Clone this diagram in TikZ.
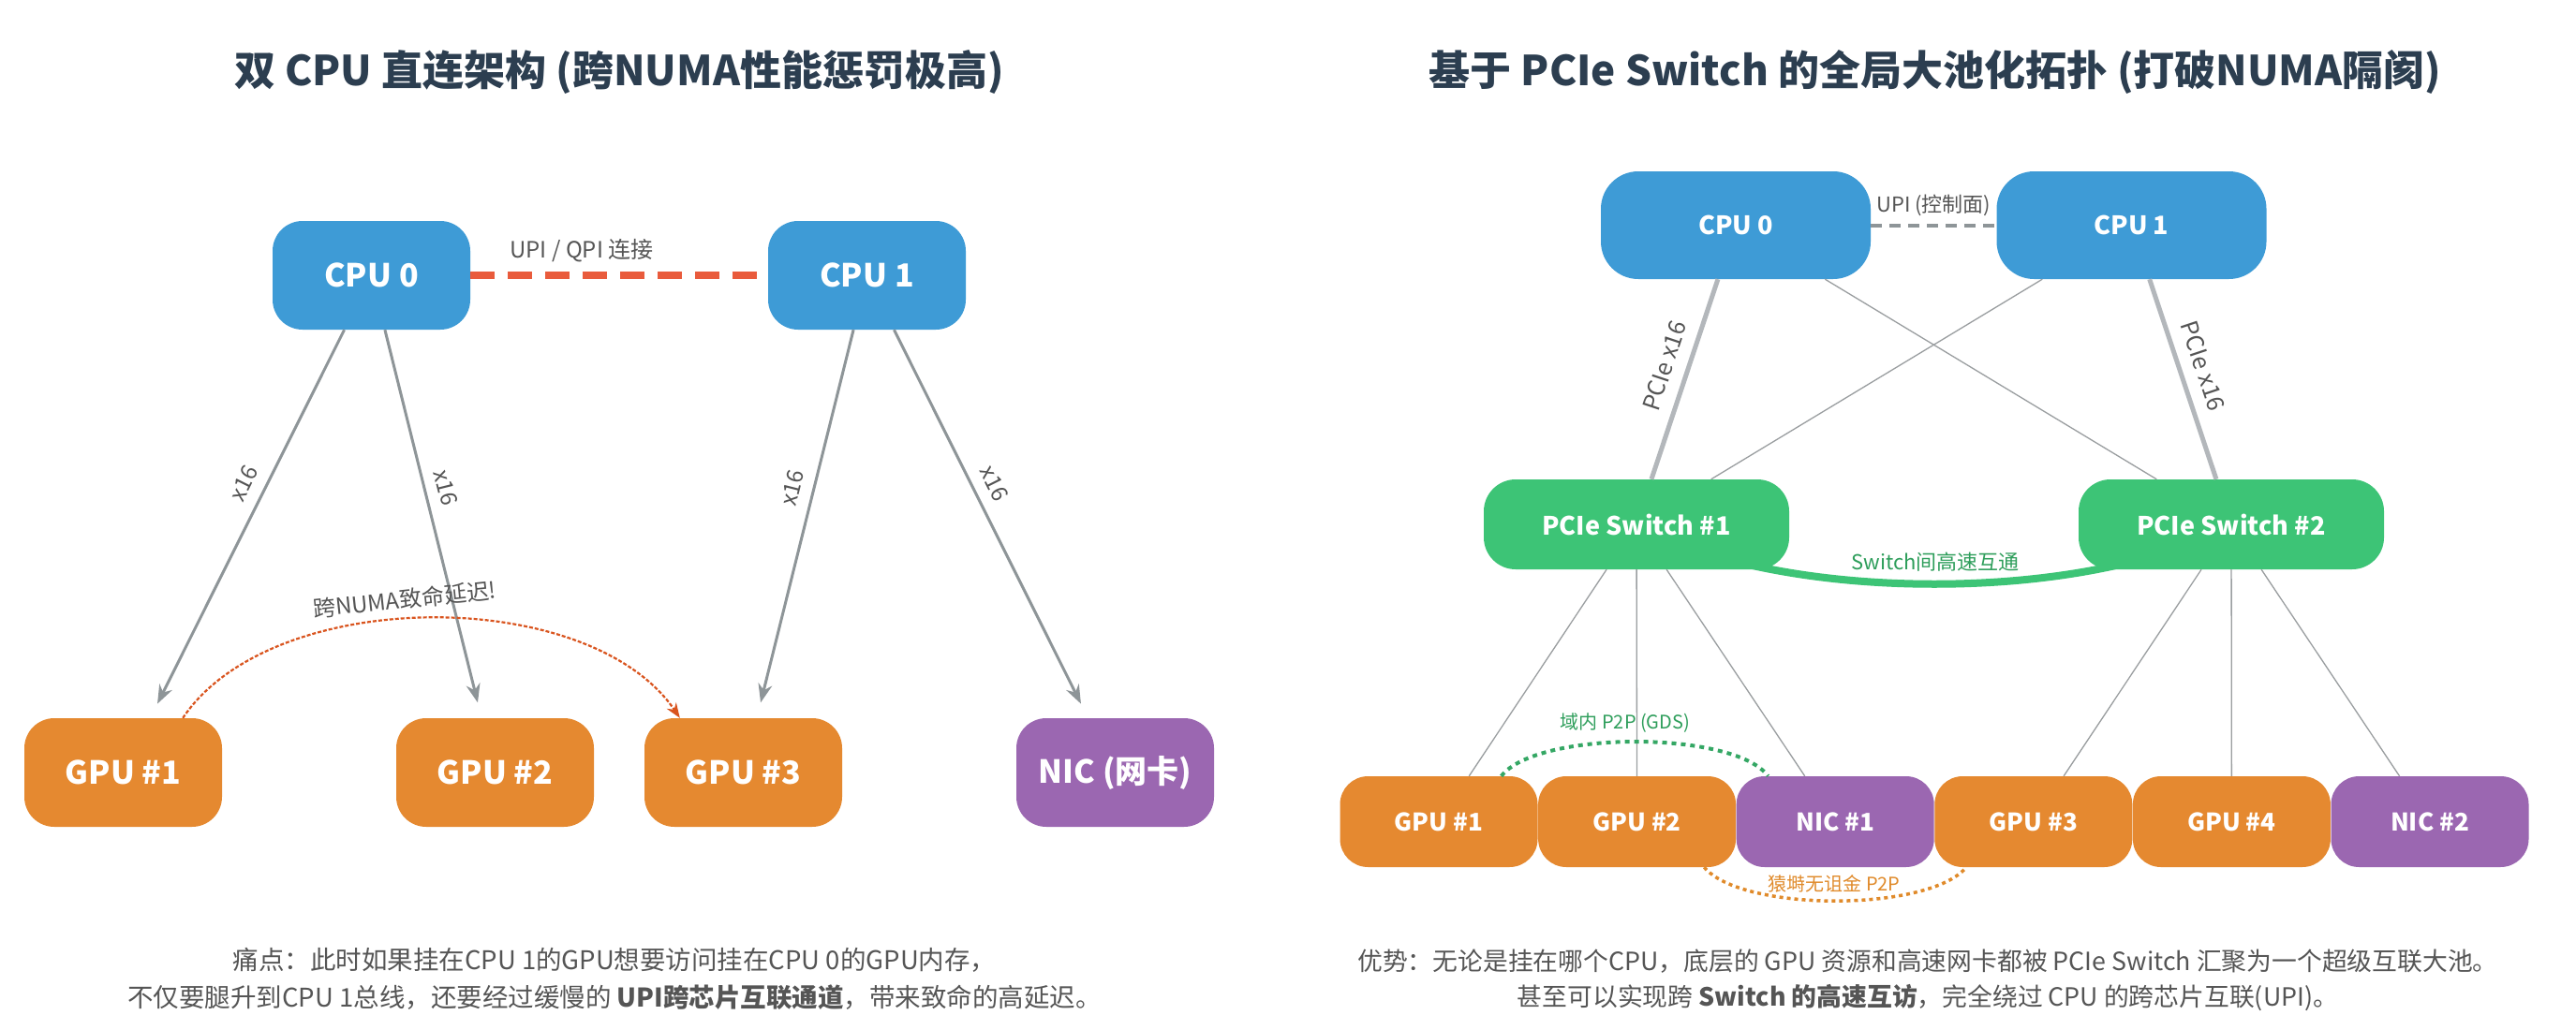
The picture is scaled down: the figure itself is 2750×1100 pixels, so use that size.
\documentclass[tikz,border=0pt]{standalone}
\usepackage{fontspec}
\setmainfont{Noto Sans CJK SC}
\usetikzlibrary{arrows.meta,calc}
\pgfdeclarelayer{canvasbg}
\pgfdeclarelayer{bg}
\pgfsetlayers{canvasbg,bg,main}
\definecolor{cpublue}{HTML}{3E9BD6}
\definecolor{gpuorange}{HTML}{E58930}
\definecolor{nicpurple}{HTML}{9B67B1}
\definecolor{swgreen}{HTML}{3DC476}
\definecolor{upired}{HTML}{E95B3C}
\definecolor{arrgray}{HTML}{8E9598}
\definecolor{titlecol}{HTML}{2C3E50}
\definecolor{txtgray}{HTML}{555555}
\definecolor{lblgreen}{HTML}{2E9E5B}
\definecolor{lblorange}{HTML}{E08A2A}
\definecolor{curvered}{HTML}{D9541E}
\definecolor{thickgray}{HTML}{B3B7BB}
\definecolor{thingray}{HTML}{9A9EA0}
\tikzset{
  box/.style={rectangle, rounded corners=32pt, inner sep=0pt, text=white,
    font=\bfseries\fontsize{34}{40}\selectfont, minimum width=211pt, minimum height=116pt},
  cpul/.style={box, fill=cpublue},
  gpul/.style={box, fill=gpuorange},
  nicl/.style={box, fill=nicpurple},
  cpur/.style={box, fill=cpublue, minimum width=288pt, minimum height=115pt, rounded corners=40pt,
    font=\bfseries\fontsize{27}{32}\selectfont},
  swr/.style={box, fill=swgreen, minimum width=326pt, minimum height=96pt, rounded corners=34pt,
    font=\bfseries\fontsize{27}{32}\selectfont},
  botr/.style={box, minimum width=211pt, minimum height=97pt, rounded corners=30pt,
    font=\bfseries\fontsize{26}{30}\selectfont},
  titlefont/.style={font=\bfseries\fontsize{44}{50}\selectfont, text=titlecol},
  lbl/.style={font=\fontsize{24}{28}\selectfont, text=txtgray, inner sep=4pt},
  garrow/.style={draw=arrgray, line width=3pt, -{Stealth[length=20pt,width=15pt]}, shorten >=17pt},
  thickln/.style={draw=thickgray, line width=5pt},
  thinln/.style={draw=thingray, line width=1.3pt},
  note/.style={text=txtgray, align=center},
}
\begin{document}
\begin{tikzpicture}[x=1pt, y=-1pt]
\begin{pgfonlayer}{canvasbg}
\fill[white] (0,0) rectangle (2750,1100);
\end{pgfonlayer}
\useasboundingbox (0,0) rectangle (2750,1100);

% ---------- Left panel ----------
\node[titlefont] (titleL) at (661,77) {双 CPU 直连架构 (跨NUMA性能惩罚极高)};

\node[cpul] (lc0) at (396.5,294) {CPU 0};
\node[cpul] (lc1) at (925.5,294) {CPU 1};
\node[gpul] (lg1) at (131.5,825) {GPU \#1};
\node[gpul] (lg2) at (528.5,825) {GPU \#2};
\node[gpul] (lg3) at (793.5,825) {GPU \#3};
\node[nicl] (lnic) at (1190.5,825) {NIC (网卡)};

\draw[upired, line width=8pt, dash pattern=on 26pt off 14pt] (lc0.east) -- node[lbl, above, pos=0.374, yshift=6pt] (upil) {UPI / QPI 连接} (lc1.west);

\draw[garrow] (lc0) -- node[lbl, sloped, above=8pt, pos=0.42] (x1) {x16} (lg1);
\draw[garrow] (lc0) -- node[lbl, sloped, above=8pt, pos=0.42] (x2) {x16} (lg2);
\draw[garrow] (lc1) -- node[lbl, sloped, above=8pt, pos=0.42] (x3) {x16} (lg3);
\draw[garrow] (lc1) -- node[lbl, sloped, above=8pt, pos=0.42] (x4) {x16} (lnic);

\draw[curvered, line width=2.2pt, dash pattern=on 4pt off 2pt, -{Stealth[length=16pt,width=12pt]}]
  ($(lg1.north east)+(-42,0)$) .. controls +(95,-142) and +(-96,-142) .. ($(lg3.north west)+(38,0)$);
\node[lbl, rotate=6] (numal) at (432,640) {跨NUMA致命延迟!};

\node[note, font=\fontsize{27.5}{40}\selectfont] (noteL) at (656,1045) {痛点：此时如果挂在CPU 1的GPU想要访问挂在CPU 0的GPU内存，\\
不仅要腿升到CPU 1总线，还要经过缓慢的 {\bfseries UPI跨芯片互联通道}，带来致命的高延迟。};

% ---------- Right panel ----------
\node[titlefont] (titleR) at (2066,77) {基于 PCIe Switch 的全局大池化拓扑 (打破NUMA隔阂)};

\node[cpur] (rc0) at (1853,240.5) {CPU 0};
\node[cpur] (rc1) at (2275.5,240.5) {CPU 1};
\node[swr] (sw1) at (1747,560) {PCIe Switch \#1};
\node[swr] (sw2) at (2382,560) {PCIe Switch \#2};
\node[botr, fill=gpuorange] (rg1) at (1536,877.5) {GPU \#1};
\node[botr, fill=gpuorange] (rg2) at (1747.6,877.5) {GPU \#2};
\node[botr, fill=nicpurple] (rn1) at (1959.2,877.5) {NIC \#1};
\node[botr, fill=gpuorange] (rg3) at (2170.8,877.5) {GPU \#3};
\node[botr, fill=gpuorange] (rg4) at (2382.4,877.5) {GPU \#4};
\node[botr, fill=nicpurple] (rn2) at (2594,877.5) {NIC \#2};

\draw[arrgray, line width=4pt, dash pattern=on 12pt off 8pt] (rc0.east) -- node[lbl, font=\fontsize{22}{26}\selectfont, above, yshift=4pt] (upir) {UPI (控制面)} (rc1.west);

\draw[thickln] (rc0) -- node[lbl, font=\fontsize{25}{28}\selectfont, sloped, above=9pt, pos=0.47] (px1) {PCIe x16} (sw1);
\draw[thickln] (rc1) -- node[lbl, font=\fontsize{25}{28}\selectfont, sloped, above=9pt, pos=0.47] (px2) {PCIe x16} (sw2);
\draw[thinln] (rc0) -- (sw2);
\draw[thinln] (rc1) -- (sw1);

\draw[thinln] (sw1) -- (rg1);
\draw[thinln] (sw1) -- (rg2);
\draw[thinln] (sw1) -- (rn1);
\draw[thinln] (sw2) -- (rg3);
\draw[thinln] (sw2) -- (rg4);
\draw[thinln] (sw2) -- (rn2);

\begin{pgfonlayer}{bg}
\draw[swgreen, line width=8pt] (sw1.center) .. controls +(153,85) and +(-152,85) .. (sw2.center);
\end{pgfonlayer}
\node[lbl, text=lblgreen, font=\fontsize{22}{26}\selectfont] (swl) at (2066,600) {Switch间高速互通};

\draw[swgreen!85!black, line width=4pt, dash pattern=on 5pt off 5pt]
  ($(rg1.north east)+(-39,0)$) .. controls +(38,-49) and +(-36,-49) .. ($(rn1.north west)+(34,0)$);
\node[lbl, text=lblgreen, font=\fontsize{20}{24}\selectfont] (gdsl) at (1735,772) {域内 P2P (GDS)};

\draw[lblorange, line width=3.5pt, dash pattern=on 4pt off 4pt]
  ($(rg2.south east)+(-34,0)$) .. controls +(40,48) and +(-40,48) .. ($(rg3.south west)+(34,0)$);
\node[lbl, text=lblorange, font=\fontsize{20}{24}\selectfont] (p2pl) at (1958,944) {猿塒无诅金 P2P};

\node[note, font=\fontsize{26.8}{38}\selectfont] (noteR) at (2058,1047) {优势：无论是挂在哪个CPU，底层的 GPU 资源和高速网卡都被 PCIe Switch 汇聚为一个超级互联大池。\\
甚至可以实现跨 {\bfseries Switch 的高速互访}，完全绕过 CPU 的跨芯片互联(UPI)。};
\end{tikzpicture}
\end{document}
